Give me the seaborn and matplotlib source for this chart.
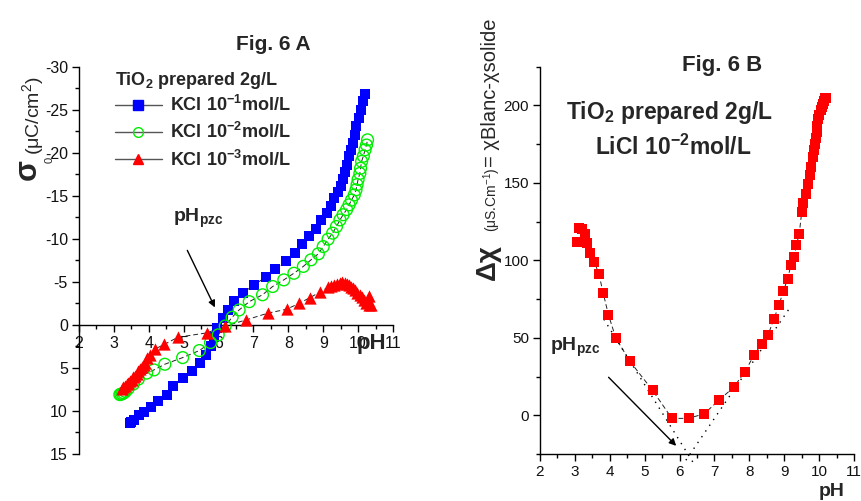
import numpy as np
import pandas as pd
import matplotlib
matplotlib.use("Agg")
import matplotlib.pyplot as plt
import seaborn as sns
from matplotlib.lines import Line2D
from matplotlib.ticker import MultipleLocator

# ---------------- data: Fig. 6 A ----------------
kcl1_ph = [3.45, 3.50, 3.58, 3.72, 3.87, 4.05, 4.25, 4.51, 4.70, 4.99, 5.25, 5.47, 5.64, 5.77, 5.86,
           5.95, 6.13, 6.27, 6.45, 6.69, 7.02, 7.35, 7.63, 7.92, 8.19, 8.40, 8.60, 8.79, 8.95, 9.10,
           9.21, 9.32, 9.43, 9.50, 9.56, 9.62, 9.67, 9.74, 9.79, 9.84, 9.90, 9.95, 10.02, 10.08,
           10.15, 10.20]
kcl1_sigma = [11.4, 11.3, 11.0, 10.5, 10.1, 9.5, 8.9, 8.1, 7.1, 6.2, 5.35, 4.46, 3.5, 2.44, 1.4,
              0.35, -0.8, -1.74, -2.75, -3.7, -4.65, -5.55, -6.5, -7.42, -8.33, -9.35, -10.3, -11.2,
              -12.2, -13.0, -13.8, -14.7, -15.4, -16.1, -16.9, -17.8, -18.6, -19.6, -20.3, -21.1,
              -22.1, -23.1, -24.0, -25.0, -26.0, -26.8]

kcl2_ph = [3.17, 3.20, 3.24, 3.28, 3.33, 3.41, 3.56, 3.70, 3.94, 4.15, 4.46, 4.97, 5.45, 5.77, 5.99,
           6.19, 6.39, 6.59, 6.88, 7.26, 7.55, 7.87, 8.16, 8.43, 8.65, 8.86, 9.00, 9.14, 9.27, 9.38,
           9.48, 9.57, 9.67, 9.74, 9.81, 9.89, 9.94, 9.97, 10.00, 10.05, 10.07, 10.10, 10.15, 10.20,
           10.24, 10.27]
kcl2_sigma = [8.1, 8.05, 8.0, 7.9, 7.75, 7.4, 6.86, 6.3, 5.6, 5.23, 4.57, 3.8, 2.98, 2.05, 1.16,
              0.13, -0.89, -1.74, -2.7, -3.5, -4.46, -5.23, -6.0, -6.8, -7.56, -8.26, -9.1, -9.96,
              -10.66, -11.43, -12.2, -12.8, -13.4, -13.95, -14.5, -15.1, -15.7, -16.3, -16.9, -17.6,
              -18.2, -19.0, -19.6, -20.35, -20.9, -21.5]

kcl3_ph = [3.22, 3.27, 3.32, 3.37, 3.41, 3.46, 3.51, 3.56, 3.60, 3.65, 3.70, 3.75, 3.80, 3.85, 3.89,
           3.96, 4.04, 4.18, 4.45, 4.84, 5.66, 6.18, 6.79, 7.41, 7.95, 8.31, 8.62, 8.90, 9.14, 9.22,
           9.30, 9.40, 9.48, 9.55, 9.62, 9.68, 9.74, 9.80, 9.86, 9.92, 9.98, 10.05, 10.12, 10.18,
           10.24, 10.30, 10.30, 10.38]
kcl3_sigma = [7.4, 7.2, 7.05, 6.9, 6.75, 6.55, 6.35, 6.1, 5.9, 5.65, 5.4, 5.15, 4.9, 4.65, 4.4,
              3.9, 3.45, 2.8, 2.25, 1.43, 0.93, 0.15, -0.58, -1.36, -1.82, -2.5, -3.17, -3.8, -4.38,
              -4.5, -4.62, -4.8, -4.92, -4.97, -4.92, -4.8, -4.65, -4.45, -4.26, -4.0, -3.76, -3.5,
              -3.22, -2.9, -2.6, -3.37, -2.35, -2.3]

# ---------------- data: Fig. 6 B ----------------
licl_ph = [3.13, 3.19, 3.29, 3.07, 3.36, 3.44, 3.56, 3.69, 3.81, 3.96, 4.17, 4.57, 5.23, 5.78, 6.26,
           6.71, 7.14, 7.55, 7.87, 8.14, 8.35, 8.54, 8.70, 8.85, 8.97, 9.10, 9.19, 9.29, 9.35, 9.43,
           9.50, 9.55, 9.61, 9.68, 9.73, 9.78, 9.83, 9.86, 9.88, 9.90, 9.93, 9.95, 9.98, 10.01,
           10.04, 10.07, 10.10, 10.14, 10.18, 10.21]
licl_dchi = [121, 120, 117, 112, 111, 105, 99, 91, 79, 65, 50, 35, 16, -2, -2,
             1, 10, 18, 28, 39, 46, 52, 62, 71, 80, 88, 97, 102, 110, 117,
             131, 137, 143, 149, 155, 160, 167, 171, 175, 179, 183, 187, 191, 194,
             197, 199, 201, 203, 204.5, 205]
# dotted tangent lines used to locate pHpzc
fit_left_ph = [3.83, 6.39]
fit_left_dchi = [62, -30.5]
fit_right_ph = [9.12, 6.13]
fit_right_dchi = [68, -30.7]

legend_title = r"TiO$_\mathbf{2}$ prepared 2g/L"
series_labels = [r"KCl 10$^\mathbf{-1}$mol/L", r"KCl 10$^\mathbf{-2}$mol/L", r"KCl 10$^\mathbf{-3}$mol/L"]

# ---------------- style ----------------
sns.set_style("ticks")
plt.rcParams['font.family'] = ['Liberation Sans', 'DejaVu Sans']
plt.rcParams['mathtext.fontset'] = 'custom'
plt.rcParams['mathtext.rm'] = 'Liberation Sans'
plt.rcParams['mathtext.bf'] = 'Liberation Sans:bold'
plt.rcParams['mathtext.it'] = 'Liberation Sans:italic'
plt.rcParams['axes.unicode_minus'] = False

W, H = 861, 501
fig = plt.figure(figsize=(W / 100, H / 100), dpi=100)


def fx(px):
    return px / W


def fy(py):
    return 1 - py / H


axA = fig.add_axes([fx(79), fy(454), 314 / W, (454 - 66.7) / H])
axB = fig.add_axes([fx(540), fy(454), 314 / W, (454 - 66.7) / H])

BLUE = '#0000ff'
GREEN = '#00ee00'
RED = '#ff0000'
LINEC = '#222222'

# ---------------- panel A ----------------
dfA1 = pd.DataFrame({'pH': kcl1_ph, 'sigma': kcl1_sigma})
dfA2 = pd.DataFrame({'pH': kcl2_ph, 'sigma': kcl2_sigma})
dfA3 = pd.DataFrame({'pH': kcl3_ph, 'sigma': kcl3_sigma})
for df in (dfA1, dfA2, dfA3):
    sns.lineplot(data=df, x='pH', y='sigma', ax=axA, sort=False, estimator=None,
                 color=LINEC, lw=0.7, linestyle=(0, (5, 3)), zorder=2)
sns.scatterplot(data=dfA1, x='pH', y='sigma', ax=axA, marker='s', color=BLUE,
                s=52, linewidth=0, zorder=3)
sns.scatterplot(data=dfA2, x='pH', y='sigma', ax=axA, marker='o', facecolor='none',
                edgecolor=GREEN, s=72, linewidth=1.0, zorder=3)
sns.scatterplot(data=dfA3, x='pH', y='sigma', ax=axA, marker='^', color=RED,
                s=78, linewidth=0, zorder=4)

axA.set_xlim(2, 11)
axA.set_ylim(15, -30)
axA.spines['top'].set_visible(False)
axA.spines['right'].set_visible(False)
axA.spines['bottom'].set_position(('data', 0))
axA.xaxis.set_major_locator(MultipleLocator(1))
axA.xaxis.set_minor_locator(MultipleLocator(0.5))
axA.yaxis.set_major_locator(MultipleLocator(5))
axA.yaxis.set_minor_locator(MultipleLocator(2.5))
axA.tick_params(axis='both', which='major', direction='out', length=5, width=1,
                labelsize=11.5, color='k', labelcolor='#111111', pad=3)
axA.tick_params(axis='both', which='minor', direction='out', length=3, width=1, color='k')
axA.set_xlabel('')
axA.set_ylabel('')
for sp in ('left', 'bottom'):
    axA.spines[sp].set_color('k')
    axA.spines[sp].set_linewidth(1)
axA.text(9.95, 2.15, 'pH', fontsize=16, fontweight='bold', ha='left', va='center', zorder=6)

axA.annotate('', xy=(5.93, -1.74), xytext=(5.07, -8.95),
             arrowprops=dict(arrowstyle='-|>', color='k', lw=1, mutation_scale=10))
axA.text(4.69, -12.0, r'pH$_\mathbf{pzc}$', fontsize=14, fontweight='bold', ha='left', va='baseline')

handles = [
    Line2D([], [], color='#555555', lw=1, marker='s', markersize=6.5, markerfacecolor=BLUE,
           markeredgecolor=BLUE),
    Line2D([], [], color='#555555', lw=1, marker='o', markersize=7, markerfacecolor='none',
           markeredgecolor=GREEN),
    Line2D([], [], color='#555555', lw=1, marker='^', markersize=7.5, markerfacecolor=RED,
           markeredgecolor=RED),
]
leg = axA.legend(handles, series_labels, title=legend_title, loc='upper left',
                 bbox_to_anchor=(fx(102), fy(57)), bbox_transform=fig.transFigure,
                 frameon=False, prop={'weight': 'bold', 'size': 13}, handlelength=2.6,
                 handletextpad=0.45, labelspacing=0.4, borderpad=0.2)
leg.get_title().set_fontweight('bold')
leg.get_title().set_fontsize(13)
leg._legend_box.align = 'left'
leg._legend_box.sep = 3

fig.text(fx(273), fy(45), 'Fig. 6 A', fontsize=15, fontweight='bold', ha='center', va='center')

# y-label of panel A built from pieces
fig.text(fx(28), fy(180), 'σ', fontsize=22, fontweight='bold', rotation=90, ha='center', va='bottom')
fig.text(fx(50), fy(160), '0', fontsize=8, rotation=90, ha='center', va='center')
fig.text(fx(33), fy(155), r'(μC/cm$^{2}$)', fontsize=14, rotation=90, ha='center', va='bottom')

# ---------------- panel B ----------------
dfB = pd.DataFrame({'pH': licl_ph, 'dchi': licl_dchi})
dfL = pd.DataFrame({'pH': fit_left_ph, 'dchi': fit_left_dchi})
dfR = pd.DataFrame({'pH': fit_right_ph, 'dchi': fit_right_dchi})
sns.lineplot(data=dfB, x='pH', y='dchi', ax=axB, sort=False, estimator=None,
             color=LINEC, lw=0.7, linestyle=(0, (5, 3)), zorder=2)
for df in (dfL, dfR):
    sns.lineplot(data=df, x='pH', y='dchi', ax=axB, sort=False, estimator=None,
                 color='k', lw=1.0, linestyle=(0, (1, 4)), zorder=2, clip_on=False)
sns.scatterplot(data=dfB, x='pH', y='dchi', ax=axB, marker='s', color=RED,
                s=58, linewidth=0, zorder=3)

axB.set_xlim(2, 11)
axB.set_ylim(-25, 225)
axB.spines['top'].set_visible(False)
axB.spines['right'].set_visible(False)
axB.xaxis.set_major_locator(MultipleLocator(1))
axB.xaxis.set_minor_locator(MultipleLocator(0.5))
axB.yaxis.set_major_locator(MultipleLocator(50))
axB.yaxis.set_minor_locator(MultipleLocator(25))
axB.set_yticks([0, 50, 100, 150, 200])
axB.tick_params(axis='both', which='major', direction='out', length=5, width=1,
                labelsize=11, color='k', labelcolor='#111111', pad=3)
axB.tick_params(axis='both', which='minor', direction='out', length=3, width=1, color='k')
axB.set_xlabel('')
axB.set_ylabel('')
for sp in ('left', 'bottom'):
    axB.spines[sp].set_color('k')
    axB.spines[sp].set_linewidth(1)

axB.annotate('', xy=(5.96, -21), xytext=(3.91, 25.8),
             arrowprops=dict(arrowstyle='-|>', color='k', lw=1, mutation_scale=10))
axB.text(2.29, 41.7, r'pH$_\mathbf{pzc}$', fontsize=14, fontweight='bold', ha='left', va='baseline')

fig.text(fx(722), fy(66), 'Fig. 6 B', fontsize=16, fontweight='bold', ha='center', va='center')
fig.text(fx(669), fy(112), r"TiO$_\mathbf{2}$ prepared 2g/L", fontsize=16.5, fontweight='bold',
         ha='center', va='center')
fig.text(fx(673), fy(147), r"LiCl 10$^\mathbf{-2}$mol/L", fontsize=16.5, fontweight='bold',
         ha='center', va='center')
fig.text(fx(832), fy(492), 'pH', fontsize=14, fontweight='bold', ha='center', va='center')

# y-label of panel B built from pieces
fig.text(fx(488), fy(280), 'Δχ', fontsize=20, fontweight='bold', rotation=90, ha='center', va='bottom')
fig.text(fx(492), fy(232), r'(μS.Cm$^{-1}$)', fontsize=10, rotation=90, ha='center', va='bottom')
fig.text(fx(490), fy(167), '= χBlanc-χsolide', fontsize=14.5, rotation=90, ha='center', va='bottom')

fig.savefig('out.png', dpi=100)
